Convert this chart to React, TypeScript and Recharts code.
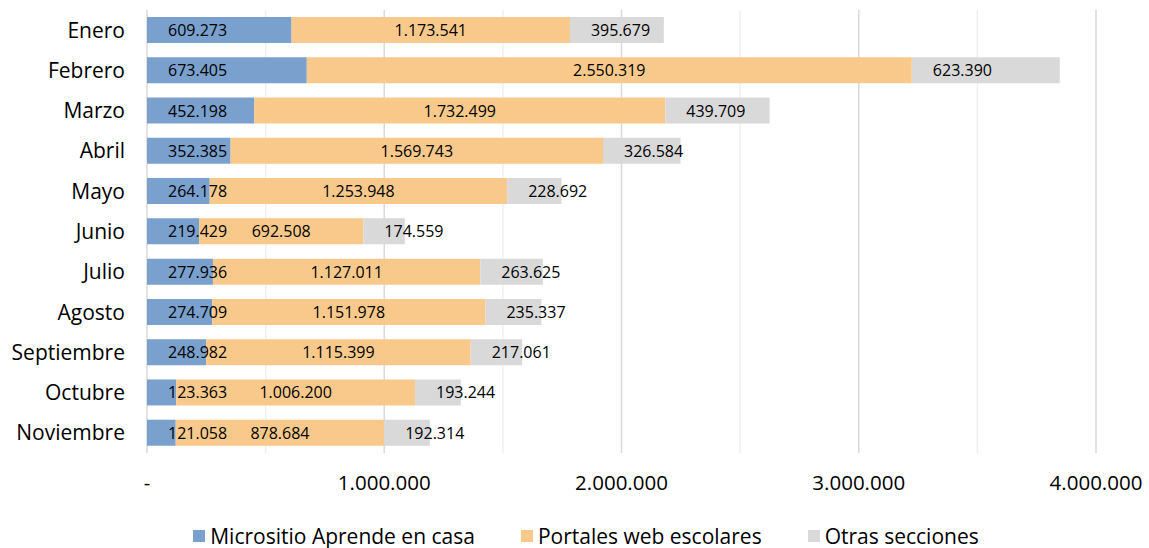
import { BarChart, Bar, XAxis, YAxis, CartesianGrid, Legend, LabelList } from "recharts";

/* ── Datos ─────────────────────────────────────────── */
const MONTHS = [
	"Enero",
	"Febrero",
	"Marzo",
	"Abril",
	"Mayo",
	"Junio",
	"Julio",
	"Agosto",
	"Septiembre",
	"Octubre",
	"Noviembre",
];
const MICROSITIO = [609273, 673405, 452198, 352385, 264178, 219429, 277936, 274709, 248982, 123363, 121058];
const PORTALES = [1173541, 2550319, 1732499, 1569743, 1253948, 692508, 1127011, 1151978, 1115399, 1006200, 878684];
const OTRAS = [395679, 623390, 439709, 326584, 228692, 174559, 263625, 235337, 217061, 193244, 192314];
const X_TICKS = [0, 500000, 1000000, 1500000, 2000000, 2500000, 3000000, 3500000, 4000000];

const SERIES = [
	{ key: "micrositio", name: "Micrositio Aprende en casa", color: "#7aa0cd", center: false },
	{ key: "portales", name: "Portales web escolares", color: "#f9c98b", center: true },
	{ key: "otras", name: "Otras secciones", color: "#d9d9d9", center: false },
];

const data = MONTHS.map((m, i) => ({
	month: m,
	micrositio: MICROSITIO[i],
	portales: PORTALES[i],
	otras: OTRAS[i],
}));

const FONT = "'Open Sans', sans-serif";

function fmt(v: number): string {
	if (v === 0) return "-";
	return String(v).replace(/\B(?=(\d{3})+(?!\d))/g, ".");
}

/* ── Etiquetas ─────────────────────────────────────── */
const makeLabel = (center: boolean) => (props: any) => {
	const { x, y, width, height, value } = props;
	return (
		<text
			x={center ? x + width / 2 : x + 21}
			y={y + height / 2}
			textAnchor={center ? "middle" : "start"}
			dominantBaseline="central"
			fontSize={16}
			fontFamily={FONT}
			fill="#000"
		>
			{fmt(value)}
		</text>
	);
};

const GridLine = (props: any) => {
	const { x1, x2, y1, y2, index } = props;
	return (
		<line
			x1={x1}
			x2={x2}
			y1={y1}
			y2={y2}
			stroke={index % 2 === 0 ? "#d9d9d9" : "#efefef"}
			strokeWidth={1.5}
		/>
	);
};

const LegendBox = () => (
	<div
		style={{
			display: "flex",
			justifyContent: "center",
			alignItems: "center",
			gap: 46,
			height: 24,
			fontFamily: FONT,
			fontSize: 21,
			color: "#000",
			paddingLeft: 76,
		}}
	>
		{SERIES.map((s) => (
			<div key={s.key} style={{ display: "flex", alignItems: "center", gap: 5 }}>
				<span style={{ width: 12, height: 12, background: s.color, display: "inline-block" }} />
				<span>{s.name}</span>
			</div>
		))}
	</div>
);

export default function App() {
	return (
		<div style={{ width: 1149, height: 548 }}>
			<style>{`body{margin:0}`}</style>
			<BarChart
				width={1149}
				height={548}
				data={data}
				layout="vertical"
				margin={{ top: 10, right: 53, bottom: 0, left: 0 }}
				barSize={26}
				barCategoryGap={0}
			>
				<CartesianGrid horizontal={false} vertical={<GridLine />} />
				<XAxis
					type="number"
					domain={[0, 4000000]}
					ticks={X_TICKS}
					interval={0}
					axisLine={false}
					tickLine={false}
					tickSize={0}
					tickMargin={22}
					height={71}
					tick={{ fontSize: 20.5, fontFamily: FONT, fill: "#000" }}
					tickFormatter={(v: number) => (v % 1000000 === 0 ? fmt(v) : "")}
				/>
				<YAxis
					type="category"
					dataKey="month"
					width={147}
					axisLine={false}
					tickLine={false}
					tickSize={0}
					tickMargin={22}
					tick={{ fontSize: 21, fontFamily: FONT, fill: "#000" }}
				/>
				<Legend verticalAlign="bottom" content={<LegendBox />} />
				{SERIES.map((s) => (
					<Bar
						key={s.key}
						dataKey={s.key}
						name={s.name}
						stackId="a"
						fill={s.color}
						isAnimationActive={false}
					>
						<LabelList dataKey={s.key} content={makeLabel(s.center)} />
					</Bar>
				))}
			</BarChart>
		</div>
	);
}
